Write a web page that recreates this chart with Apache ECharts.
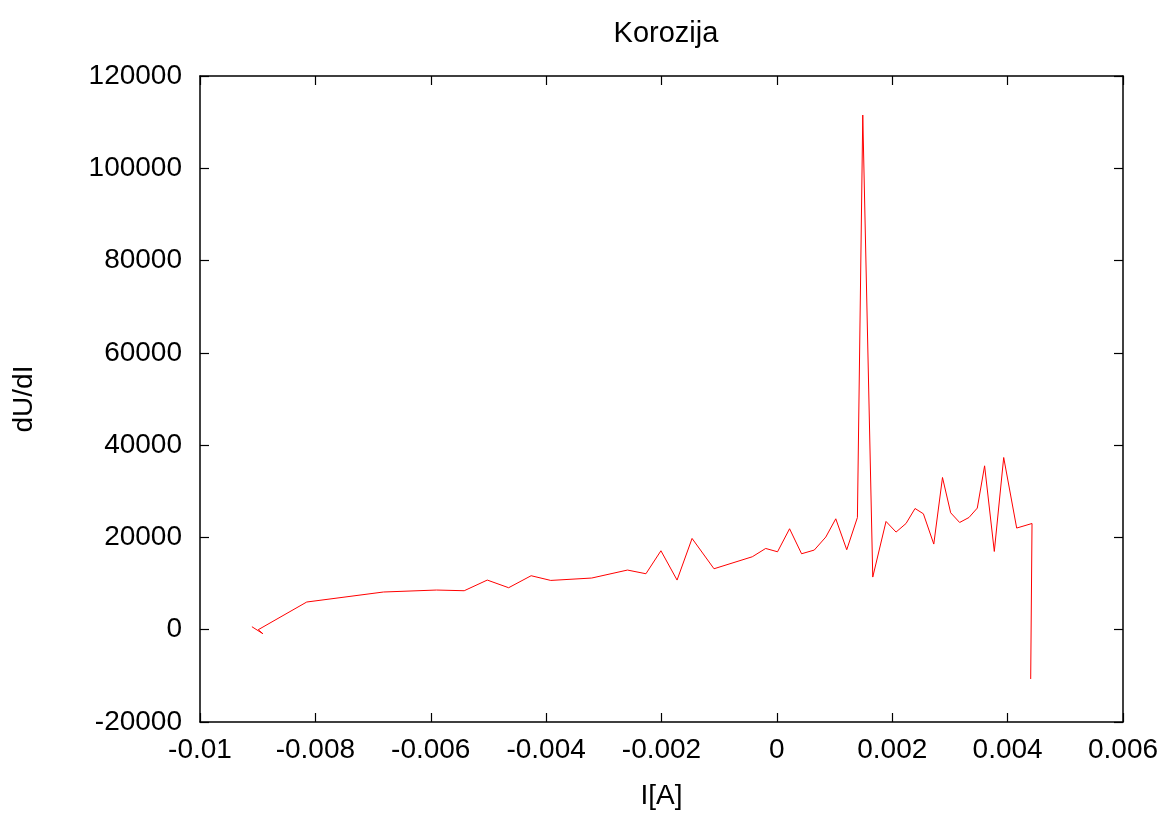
<!DOCTYPE html>
<html>
<head>
<meta charset="utf-8">
<script src="https://cdn.jsdelivr.net/npm/echarts@6/dist/echarts.min.js"></script>
<style>
  html, body { margin: 0; padding: 0; background: #fff; }
  #chart { width: 1170px; height: 818px; }
</style>
</head>
<body>
<div id="chart"></div>
<script>
// struja I[A]
var current = [
    -0.00910, -0.00891, -0.00899, -0.00815, -0.00682, -0.00590, -0.00542, -0.00502,
    -0.00465, -0.00426, -0.00392, -0.00321, -0.00259, -0.00227, -0.00201, -0.00173,
    -0.00147, -0.00109, -0.000426, -0.000194, 0.0000116, 0.000220, 0.000428, 0.000648,
    0.000848, 0.001021, 0.001211, 0.001396, 0.001489, 0.001662, 0.001892, 0.002066,
    0.002239, 0.002395, 0.002540, 0.002720, 0.002871, 0.003013, 0.003168, 0.003330,
    0.003474, 0.003601, 0.003769, 0.003932, 0.004157, 0.004423, 0.004400
];
// dU/dI
var dudi = [
    650, -870, 0, 6000, 8170, 8600, 8450, 10760,
    9100, 11700, 10680, 11200, 12930, 12130, 17110, 10760,
    19780, 13210, 15810, 17610, 16890, 21880, 16460, 17260,
    20080, 24040, 17330, 24320, 111540, 11410, 23460, 21160,
    23020, 26270, 25120, 18560, 32990, 25340, 23240, 24320,
    26360, 35520, 16960, 37320, 22030, 23020, -10680
];
var xTicks = {min: -0.01, max: 0.006, interval: 0.002};
var yTicks = {min: -20000, max: 120000, interval: 20000};

var points = [];
for (var i = 0; i < current.length; i++) {
    points.push([current[i], dudi[i]]);
}

var myChart = echarts.init(document.getElementById('chart'));
var font = 'Liberation Sans, Arial, sans-serif';
var fs = 28;

var option = {
    animation: false,
    backgroundColor: '#fff',
    title: {
        text: 'Korozija',
        left: 661,
        textAlign: 'center',
        top: 14,
        textStyle: {color: '#000', fontSize: 29, fontWeight: 'normal', fontFamily: font}
    },
    grid: {left: 200, right: 47, top: 76, bottom: 96, containLabel: false},
    xAxis: [
        {
            type: 'value',
            min: xTicks.min, max: xTicks.max, interval: xTicks.interval,
            name: 'I[A]',
            nameLocation: 'middle',
            nameGap: 60,
            nameTextStyle: {color: '#000', fontSize: fs, fontFamily: font},
            axisLine: {show: true, onZero: false, lineStyle: {color: '#000', width: 1.5}},
            axisTick: {show: true, inside: true, length: 9, lineStyle: {color: '#000', width: 1.2}},
            axisLabel: {color: '#000', fontSize: fs, fontFamily: font, margin: 14,
                formatter: function (v) { return String(+v.toFixed(4)); }},
            splitLine: {show: false}
        },
        {
            type: 'value', position: 'top',
            min: xTicks.min, max: xTicks.max, interval: xTicks.interval,
            axisLine: {show: true, onZero: false, lineStyle: {color: '#000', width: 1.5}},
            axisTick: {show: true, inside: true, length: 9, lineStyle: {color: '#000', width: 1.2}},
            axisLabel: {show: false},
            splitLine: {show: false}
        }
    ],
    yAxis: [
        {
            type: 'value',
            min: yTicks.min, max: yTicks.max, interval: yTicks.interval,
            name: 'dU/dI',
            nameLocation: 'middle',
            nameGap: 162,
            nameRotate: 90,
            nameTextStyle: {color: '#000', fontSize: fs, fontFamily: font},
            axisLine: {show: true, onZero: false, lineStyle: {color: '#000', width: 1.5}},
            axisTick: {show: true, inside: true, length: 9, lineStyle: {color: '#000', width: 1.2}},
            axisLabel: {color: '#000', fontSize: fs, fontFamily: font, margin: 18,
                formatter: function (v) { return String(v); }},
            splitLine: {show: false}
        },
        {
            type: 'value', position: 'right',
            min: yTicks.min, max: yTicks.max, interval: yTicks.interval,
            axisLine: {show: true, onZero: false, lineStyle: {color: '#000', width: 1.5}},
            axisTick: {show: true, inside: true, length: 9, lineStyle: {color: '#000', width: 1.2}},
            axisLabel: {show: false},
            splitLine: {show: false}
        }
    ],
    series: [
        {
            name: 'dU/dI',
            type: 'line',
            data: points,
            showSymbol: false,
            symbol: 'none',
            lineStyle: {color: '#ff0000', width: 1},
            itemStyle: {color: '#ff0000'}
        }
    ]
};
myChart.setOption(option);
</script>
</body>
</html>
